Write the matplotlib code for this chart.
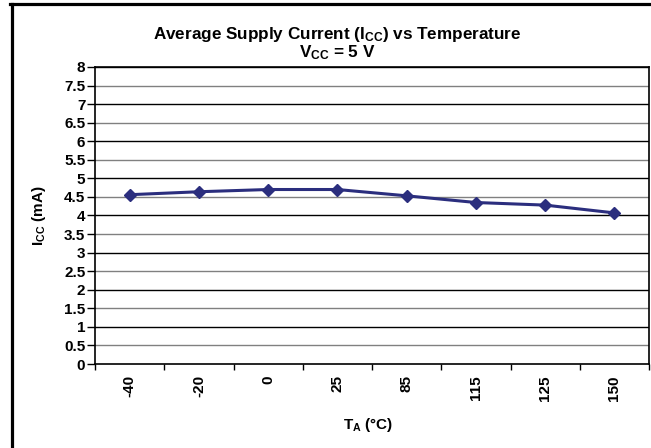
import numpy as np
import matplotlib
matplotlib.use('Agg')
import matplotlib.pyplot as plt
from matplotlib.lines import Line2D

plt.rcParams['font.family'] = ['Liberation Sans', 'DejaVu Sans']
plt.rcParams['font.weight'] = 'bold'
plt.rcParams['mathtext.fontset'] = 'custom'
plt.rcParams['mathtext.rm'] = 'Liberation Sans:bold'
plt.rcParams['mathtext.bf'] = 'Liberation Sans:bold'
plt.rcParams['mathtext.default'] = 'rm'

# data
temps = ['-40', '-20', '0', '25', '85', '115', '125', '150']
icc = [4.56, 4.64, 4.70, 4.70, 4.53, 4.35, 4.28, 4.07]
y_ticks = [0, 0.5, 1, 1.5, 2, 2.5, 3, 3.5, 4, 4.5, 5, 5.5, 6, 6.5, 7, 7.5, 8]
y_tick_labels = ['0', '0.5', '1', '1.5', '2', '2.5', '3', '3.5', '4', '4.5',
                 '5', '5.5', '6', '6.5', '7', '7.5', '8']

W, H = 651, 448
fig = plt.figure(figsize=(W / 100, H / 100), dpi=100)
ax = fig.add_axes([95 / W, 1 - 364 / H, 554 / W, 297 / H])

x = np.arange(len(temps))
ax.plot(x, icc, color='#2B2E7E', lw=2.2, marker='D', ms=6, zorder=3)

ax.set_xlim(-0.5, len(temps) - 0.5)
ax.set_ylim(0, 8)

# gridlines: integers black, halves grey
for v in y_ticks[1:]:
    col = 'black' if float(v).is_integer() else '#808080'
    ax.axhline(v, color=col, lw=1, zorder=1)

ax.set_yticks(y_ticks)
ax.set_yticklabels(y_tick_labels, fontsize=11, fontweight='bold')
ax.set_xticks(x)
ax.set_xticklabels(temps, rotation=90, fontsize=11, fontweight='bold')
ax.tick_params(axis='x', length=0, pad=8)
ax.set_xticks(np.arange(len(temps) + 1) - 0.5, minor=True)
ax.tick_params(axis='x', which='minor', length=4, width=1, direction='out')
ax.tick_params(axis='y', length=6, width=1, direction='out', pad=1)

for s in ax.spines.values():
    s.set_linewidth(1.2)
    s.set_color('black')

ax.set_ylabel(r'I$_{CC}$ (mA)', fontsize=11, fontweight='bold')
ax.yaxis.set_label_coords(-0.085, 0.5)
ax.set_xlabel(r'T$_{A}$ ($\degree$C)', fontsize=11, fontweight='bold')
ax.xaxis.set_label_coords(0.493, -0.175)

fig.text(337 / W, 1 - 35 / H, r'Average Supply Current (I$_{CC}$) vs Temperature',
         ha='center', va='center', fontsize=12.3, fontweight='bold')
fig.text(337 / W, 1 - 53 / H, r'V$_{CC}$ = 5 V',
         ha='center', va='center', fontsize=12.3, fontweight='bold')

# outer chart frame (left and top visible)
fig.add_artist(Line2D([11.5 / W, 11.5 / W], [0, 1 - 4.5 / H], transform=fig.transFigure,
                      color='black', lw=2.3))
fig.add_artist(Line2D([10 / W, 1], [1 - 4.5 / H, 1 - 4.5 / H], transform=fig.transFigure,
                      color='black', lw=2.3))

fig.savefig('out.png', dpi=100)
